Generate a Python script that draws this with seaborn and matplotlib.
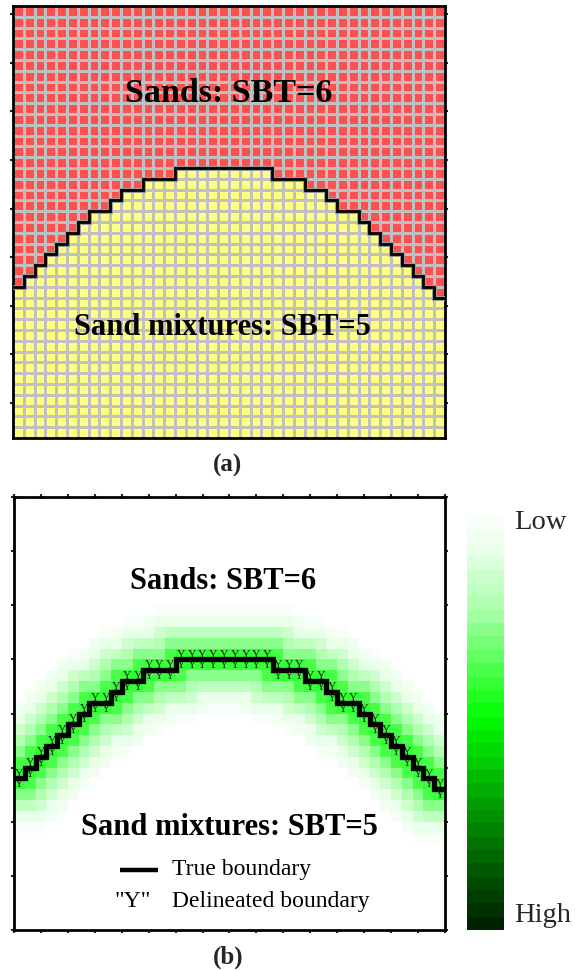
import numpy as np
import matplotlib
matplotlib.use("Agg")
import matplotlib.pyplot as plt
from matplotlib.colors import ListedColormap, LinearSegmentedColormap
import seaborn as sns

sns.set_theme(style="white")
plt.rcParams["font.family"] = ["Liberation Serif", "DejaVu Serif"]

# ---- data -------------------------------------------------------------
n_cols = 40
n_rows = 40
# first row (from the top) belonging to the sand mixtures, per column
boundary_rows = [26, 25, 24, 23, 22, 21, 20, 19, 19, 18,
                 17, 17, 16, 16, 16, 15, 15, 15, 15, 15,
                 15, 15, 15, 15, 16, 16, 16, 17, 17, 18,
                 19, 19, 20, 21, 22, 23, 24, 25, 26, 27]
sbt_upper = 6
sbt_lower = 5
upper_label = "Sands: SBT=6"
lower_label = "Sand mixtures: SBT=5"
# shading level against distance (in cells) from the true boundary
band_distance = [0.0, 0.5, 1.5, 2.5, 3.5, 4.5, 5.5]
band_level = [0.47, 0.43, 0.31, 0.21, 0.12, 0.05, 0.0]
legend_labels = ["True boundary", "Delineated boundary"]
cbar_labels = ["Low", "High"]
panel_tags = ["(a)", "(b)"]

# ---- derived grids ----------------------------------------------------
b = np.array(boundary_rows)
rows = np.arange(n_rows)[:, None]
sbt_grid = np.where(rows < b[None, :], sbt_upper, sbt_lower)

# stair path of the true boundary (x = column edge, y = row edge)
px, py = [], []
for c, r in enumerate(boundary_rows):
    px += [c, c + 1]
    py += [r, r]
px, py = np.array(px, float), np.array(py, float)
sx, sy = [], []
for i in range(len(px) - 1):
    t = np.linspace(0, 1, 21)
    sx.append(px[i] + (px[i + 1] - px[i]) * t)
    sy.append(py[i] + (py[i + 1] - py[i]) * t)
sx, sy = np.concatenate(sx), np.concatenate(sy)
cx, cy = np.meshgrid(np.arange(n_cols) + 0.5, np.arange(n_rows) + 0.5)
dist = np.sqrt((cx[..., None] - sx) ** 2 + (cy[..., None] - sy) ** 2).min(axis=2)
intensity = np.interp(dist, band_distance, band_level)

# ---- figure -----------------------------------------------------------
fig = plt.figure(figsize=(5.75, 9.71), dpi=100)
ax_a = fig.add_axes([0.0226, 0.5489, 0.7513, 0.4449])
ax_b = fig.add_axes([0.0243, 0.0422, 0.7496, 0.4459])
ax_c = fig.add_axes([0.8122, 0.0422, 0.0643, 0.4397])

# (a) classified grid
sbt_cmap = ListedColormap(["#ffff80", "#ff5050"])
sns.heatmap(sbt_grid, ax=ax_a, cmap=sbt_cmap, vmin=sbt_lower - 0.5, vmax=sbt_upper + 0.5,
            cbar=False, linewidths=0.9, linecolor="#c0c0c0",
            xticklabels=False, yticklabels=False)
ax_a.stairs(boundary_rows, np.arange(n_cols + 1), baseline=None,
            color="#9a9a9a", lw=3.6, zorder=3)
ax_a.stairs(boundary_rows, np.arange(n_cols + 1), baseline=None,
            color="black", lw=2.0, zorder=4)
ax_a.text(0.50, 0.797, upper_label, transform=ax_a.transAxes, ha="center", va="center",
          fontsize=24.5, fontweight="bold", color="black")
ax_a.text(0.484, 0.255, lower_label, transform=ax_a.transAxes, ha="center", va="center",
          fontsize=22, fontweight="bold", color="black")

# (b) delineation intensity
green_cmap = LinearSegmentedColormap.from_list(
    "greens", [(0.0, "#ffffff"), (0.1, "#e8ffe8"), (0.25, "#a6ffa6"),
               (0.5, "#00ff00"), (0.75, "#008c00"), (1.0, "#002200")])
green_steps = ListedColormap(green_cmap(np.linspace(0, 1, 32)))
sns.heatmap(intensity, ax=ax_b, cmap=green_steps, vmin=0, vmax=1,
            cbar=True, cbar_ax=ax_c, cbar_kws={"ticks": []},
            xticklabels=False, yticklabels=False)
ax_b.stairs(boundary_rows, np.arange(n_cols + 1), baseline=None,
            color="black", lw=3.8, zorder=4)
for c, r in enumerate(boundary_rows):
    for rr in (r - 1, r):
        ax_b.text(c + 0.5, rr + 0.55, "Y", ha="center", va="center",
                  fontsize=8.5, color="#1a1a1a", zorder=5)
ax_b.text(0.485, 0.804, upper_label, transform=ax_b.transAxes, ha="center", va="center",
          fontsize=22, fontweight="bold", color="black")
ax_b.text(0.501, 0.236, lower_label, transform=ax_b.transAxes, ha="center", va="center",
          fontsize=22, fontweight="bold", color="black")
ax_b.plot([0.246, 0.334], [0.139, 0.139], transform=ax_b.transAxes,
          color="black", lw=3.2, solid_capstyle="butt")
ax_b.text(0.367, 0.139, legend_labels[0], transform=ax_b.transAxes,
          ha="left", va="center", fontsize=17, color="black")
ax_b.text(0.276, 0.066, '"Y"', transform=ax_b.transAxes,
          ha="center", va="center", fontsize=17, color="black")
ax_b.text(0.367, 0.066, legend_labels[1], transform=ax_b.transAxes,
          ha="left", va="center", fontsize=17, color="black")

# colorbar: low at the top
cbar = ax_b.collections[0].colorbar
cbar.outline.set_visible(False)
ax_c.invert_yaxis()
ax_c.tick_params(length=0)
fig.text(0.895, 0.462, cbar_labels[0], ha="left", va="center", fontsize=20.5)
fig.text(0.895, 0.057, cbar_labels[1], ha="left", va="center", fontsize=20.5)

# frames and ticks
for ax in (ax_a, ax_b):
    for s in ax.spines.values():
        s.set_visible(True)
        s.set_color("black")
        s.set_linewidth(2.0)
    ax.set_xlim(0, n_cols)
    ax.set_ylim(n_rows, 0)
ax_a.set_yticks(np.arange(0.75, n_rows, 4.5))
ax_a.set_xticks([])
ax_a.tick_params(left=True, right=True, direction="inout", length=4, width=1.5,
                 labelleft=False, labelright=False)
ax_b.set_xticks(np.arange(0, n_cols + 0.1, 2.5))
ax_b.set_yticks(np.arange(0, n_rows + 0.1, 5))
ax_b.tick_params(left=True, right=True, top=True, bottom=True, direction="inout",
                 length=4, width=1.5, labelleft=False, labelbottom=False,
                 labeltop=False, labelright=False)

fig.text(228 / 575, 1 - 465 / 971, panel_tags[0], ha="center", va="center",
         fontsize=18, fontweight="bold")
fig.text(228 / 575, 1 - 957 / 971, panel_tags[1], ha="center", va="center",
         fontsize=18, fontweight="bold")

fig.savefig("out.png", dpi=100)
